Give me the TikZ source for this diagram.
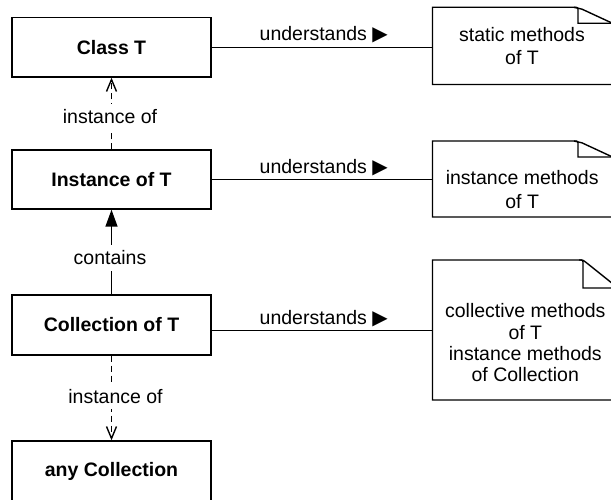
\documentclass[tikz,border=0pt]{standalone}
\usepackage{fontspec}
\setmainfont{Liberation Sans}
\newfontfamily\symfont{DejaVu Sans}
\usetikzlibrary{arrows.meta}
\begin{document}
\begin{tikzpicture}[x=1pt,y=-1pt,
  every node/.style={font=\fontsize{19.5}{23.4}\selectfont},
  box/.style={draw, line width=1.4pt, minimum width=199pt, inner sep=0pt,
    font=\fontsize{19.5}{23.4}\selectfont\bfseries},
  notebox/.style={inner sep=0pt},
  conn/.style={line width=1.4pt},
  lbl/.style={inner sep=0pt, anchor=base},
  edgelbl/.style={fill=white, inner xsep=2pt, inner ysep=6pt, anchor=base},
  dashline/.style={conn, dash pattern=on 6pt off 4pt,
    -{Straight Barb[length=12pt,width=10pt]}},
  solidarrow/.style={conn, -{Triangle[length=17pt,width=12pt]}},
  notetext/.style={align=center, inner sep=0pt}
]
\useasboundingbox (0,0) rectangle (611,500);
\clip (0,0) rectangle (611,500);

% left boxes
\node[box, minimum height=59.5pt] (ct) at (111.5,47.25) {Class T};
\node[box, minimum height=59pt] (it) at (111.5,179.5) {Instance of T};
\node[box, minimum height=60pt] (co) at (111.5,325) {Collection of T};
\node[box, minimum height=60pt] (ac) at (111.5,471) {any Collection};

% note placeholders
\node[notebox, minimum width=180pt, minimum height=77.2pt] (n1) at (522.5,45.9) {};
\node[notebox, minimum width=180pt, minimum height=76pt] (n2) at (522.5,179) {};
\node[notebox, minimum width=185.5pt, minimum height=140pt] (n3) at (525.25,330.3) {};

% note outlines
\draw[conn] (612.5,23.3) -- (612.5,84.5) -- (432.5,84.5) -- (432.5,7.3) -- (574,7.3)
  .. controls (578,7.3) .. (582,9.16) -- cycle;
\draw[conn] (574,7.3) .. controls (578,7.3) .. (578,11) -- (578,23.3) -- (612.5,23.3);

\draw[conn] (612.5,157) -- (612.5,217) -- (432.5,217) -- (432.5,141) -- (574,141)
  .. controls (578,141) .. (582,142.86) -- cycle;
\draw[conn] (574,141) .. controls (578,141) .. (578,145) -- (578,157) -- (612.5,157);

\draw[conn] (618,288) -- (618,400) -- (432.5,400) -- (432.5,260) -- (579,260)
  .. controls (583,260) .. (587,263.2) -- cycle;
\draw[conn] (579,260) .. controls (583,260) .. (583,264) -- (583,288) -- (618,288);

% note texts
\node[notetext] (t1) at (522,45.9) {static methods\\of T};
\node[notetext] (t2) at (522.2,189.6) {instance methods\\of T};
\node[notetext, font=\fontsize{19.5}{21.3}\selectfont] (t3) at (525.3,342.9)
  {collective methods\\of T\\instance methods\\of Collection};

% horizontal connectors
\draw[conn] (ct.east) -- node[lbl, xshift=1.75pt, yshift=6.3pt]
  {understands {\symfont\fontsize{20}{23}\selectfont ▶}} (ct.east -| n1.west);
\draw[conn] (it.east) -- node[lbl, xshift=1.75pt, yshift=6.3pt]
  {understands {\symfont\fontsize{20}{23}\selectfont ▶}} (it.east -| n2.west);
\draw[conn] (co.east |- n3.west) -- node[lbl, xshift=1.75pt, yshift=6.3pt]
  {understands {\symfont\fontsize{20}{23}\selectfont ▶}} (n3.west);

% vertical connectors
\draw[dashline] (it.north) -- node[edgelbl, xshift=-1.5pt, yshift=-10.25pt] {instance of} (ct.south);
\draw[solidarrow] (co.north) -- node[edgelbl, xshift=-1.5pt, yshift=-13pt] {contains} (it.south);
\draw[dashline] (co.south) -- node[edgelbl, xshift=4pt, yshift=-5.3pt] {instance of} (ac.north);
\end{tikzpicture}
\end{document}
